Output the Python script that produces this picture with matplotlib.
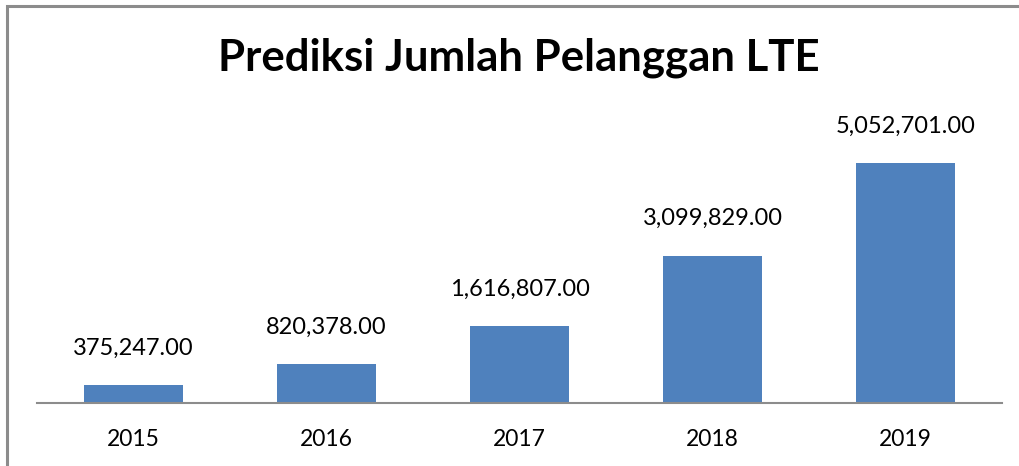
import matplotlib
matplotlib.use("Agg")
import matplotlib.pyplot as plt
from matplotlib.patches import Rectangle

years = ["2015", "2016", "2017", "2018", "2019"]
pelanggan = [375247.00, 820378.00, 1616807.00, 3099829.00, 5052701.00]

BAR_COLOR = "#4F81BD"
FONT = "Lato"

W, H = 1020, 466
fig = plt.figure(figsize=(W / 100, H / 100), dpi=100)

# outer chart border (only left/top visible in the crop)
fig.patches.append(Rectangle((7 / W, -0.1), 1.2, (H - 6) / H + 0.1,
                             transform=fig.transFigure, fill=False,
                             edgecolor="#8c8c8c", linewidth=2.2))

ax = fig.add_axes([37 / W, (H - 403) / H, (1002 - 37) / W, (403 - 100) / H])
x = range(len(years))
ax.bar(x, pelanggan, width=0.51, color=BAR_COLOR)
ax.set_xlim(-0.5, len(years) - 0.5)
ax.set_ylim(0, 5052701.00 * 303 / 240)

for i, v in enumerate(pelanggan):
    ax.annotate("{:,.2f}".format(v), (i, v), xytext=(0, 22), textcoords="offset points",
                ha="center", va="baseline", fontsize=17, family=FONT)

ax.set_xticks(list(x))
ax.set_xticklabels(years, fontsize=16.5, family=FONT)
ax.tick_params(axis="x", length=0, pad=19)
ax.set_yticks([])
for s in ["left", "right", "top"]:
    ax.spines[s].set_visible(False)
ax.spines["bottom"].set_color("#8c8c8c")
ax.spines["bottom"].set_linewidth(1.5)

fig.text(519 / W, 1 - 58 / H, "Prediksi Jumlah Pelanggan LTE", ha="center", va="center",
         fontsize=31.5, fontweight="bold", family=FONT)

fig.savefig("out.png", dpi=100)
